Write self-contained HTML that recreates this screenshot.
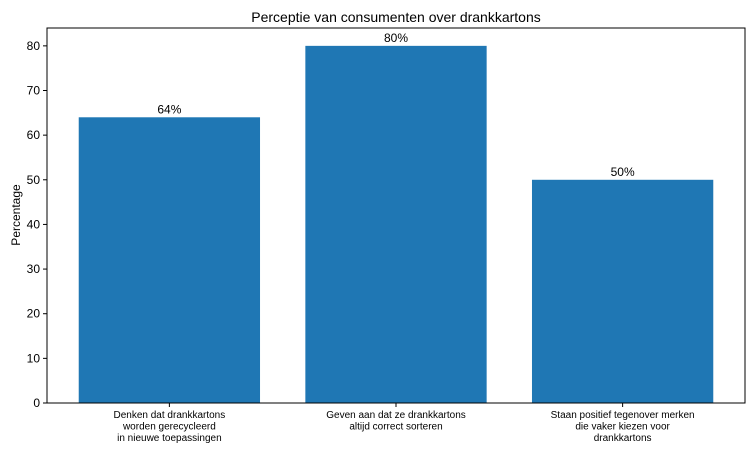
<!DOCTYPE html>
<html><head><meta charset="utf-8"><style>
body{margin:0;background:#fff;}
svg text{font-family:"Liberation Sans","DejaVu Sans",sans-serif;}
</style></head><body>
<svg id="chart" width="756" height="454" xmlns="http://www.w3.org/2000/svg">
<rect width="756" height="454" fill="#fff"/>
<text x="396" y="22" text-anchor="middle" font-size="14">Perceptie van consumenten over drankkartons</text>
<text transform="translate(20,215) rotate(-90)" text-anchor="middle" font-size="12">Percentage</text>
<g id="bars"></g><g id="yticks"></g><g id="xticks"></g>
<rect x="47" y="28" width="698" height="375" fill="none" stroke="#000" stroke-width="1"/>
</svg>
<script>
const categories=[["Denken dat drankkartons","worden gerecycleerd","in nieuwe toepassingen"],["Geven aan dat ze drankkartons","altijd correct sorteren"],["Staan positief tegenover merken","die vaker kiezen voor","drankkartons"]];
const values=[64,80,50];
const valueLabels=["64%","80%","50%"];
const yTicks=[0,10,20,30,40,50,60,70,80];
const L=47,R=745,T=28,B=403,yMax=84,xMin=-0.54,xMax=2.54;
const ys=v=>B-(v/yMax)*(B-T);
const xs=i=>L+(i-xMin)/(xMax-xMin)*(R-L);
const ns="http://www.w3.org/2000/svg";
function mk(t,a,p){const e=document.createElementNS(ns,t);for(const k in a)e.setAttribute(k,a[k]);p.appendChild(e);return e;}
const bars=document.getElementById('bars'),yt=document.getElementById('yticks'),xt=document.getElementById('xticks');
values.forEach((v,i)=>{
 const w=xs(0.4)-xs(0);
 const r=mk('rect',{x:xs(i)-w,y:ys(v),width:2*w,height:B-ys(v),fill:'#1f77b4'},bars);
 
 
 const t=mk('text',{x:xs(i),y:ys(v)-4,'text-anchor':'middle','font-size':'12'},bars);
 t.textContent=valueLabels[i];
 
 
 mk('line',{x1:xs(i),x2:xs(i),y1:B,y2:B+4,stroke:'#000'},xt);
 const lt=mk('text',{x:xs(i),'text-anchor':'middle','font-size':'10'},xt);
 
 
 categories[i].forEach((s,j)=>{const ts=mk('tspan',{x:xs(i),y:B+15+j*11.5},lt);ts.textContent=s;});
});
yTicks.forEach(v=>{
 mk('line',{x1:L-4,x2:L,y1:ys(v),y2:ys(v),stroke:'#000'},yt);
 const t=mk('text',{x:L-7,y:ys(v)+4,'text-anchor':'end','font-size':'12'},yt);
 t.textContent=v;
 
 
});
</script>
</body></html>
